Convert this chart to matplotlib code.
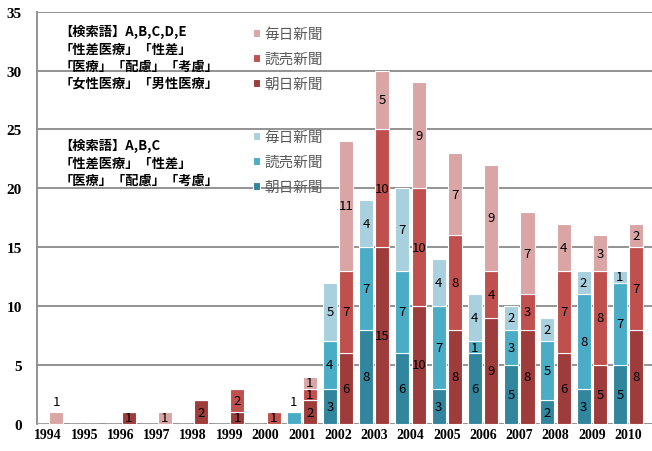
import numpy as np
import matplotlib.pyplot as plt

plt.rcParams['font.family'] = ['Noto Sans CJK JP', 'DejaVu Sans']

years = [str(y) for y in range(1994, 2011)]

# search terms A,B,C (blue group)
abc_asahi    = [0, 0, 0, 0, 0, 0, 0, 0, 3, 8, 6, 3, 6, 5, 2, 3, 5]
abc_yomiuri  = [0, 0, 0, 0, 0, 0, 0, 1, 4, 7, 7, 7, 1, 3, 5, 8, 7]
abc_mainichi = [0, 0, 0, 0, 0, 0, 0, 0, 5, 4, 7, 4, 4, 2, 2, 2, 1]

# search terms A,B,C,D,E (red group)
all_asahi    = [0, 0, 1, 0, 2, 1, 0, 2, 6, 15, 10, 8, 9, 8, 6, 5, 8]
all_yomiuri  = [0, 0, 0, 0, 0, 2, 1, 1, 7, 10, 10, 8, 4, 3, 7, 8, 7]
all_mainichi = [1, 0, 0, 1, 0, 0, 0, 1, 11, 5, 9, 7, 9, 7, 4, 3, 2]

papers = ['朝日新聞', '読売新聞', '毎日新聞']
blue_colors = ['#31859c', '#4bacc6', '#a8d0de']
red_colors = ['#9e3b3b', '#c0504d', '#d9a5a5']

# labels drawn above the bar instead of inside (as in original)
above = {('red', 0), ('blue', 7)}

fig = plt.figure(figsize=(6.52, 4.52), dpi=100)
ax = fig.add_axes([0.0567, 0.06, 0.9433, 0.912])

x = np.arange(len(years))
w = 0.39
off = 0.225

groups = [('blue', x - off, [abc_asahi, abc_yomiuri, abc_mainichi], blue_colors),
          ('red', x + off, [all_asahi, all_yomiuri, all_mainichi], red_colors)]

handles = {}
for name, pos, series, colors in groups:
    bottom = np.zeros(len(years))
    hs = []
    for vals, col, lab in zip(series, colors, papers):
        vals = np.array(vals)
        bars = ax.bar(pos, vals, w, bottom=bottom, color=col, edgecolor='white',
                      linewidth=0.8, zorder=3, label=lab)
        hs.append(bars)
        for i, (b, v) in enumerate(zip(bars, vals)):
            if v == 0:
                continue
            if (name, i) in above:
                ypos = bottom[i] + v + 0.9
            else:
                ypos = bottom[i] + v / 2
            ax.text(b.get_x() + b.get_width() / 2, ypos, str(v),
                    ha='center', va='center', fontsize=9.5, color='black', zorder=4)
        bottom = bottom + vals
    handles[name] = hs

ax.set_xlim(-0.303, 16.66)
ax.set_ylim(0, 35)
ax.set_yticks(range(0, 36, 5))
ax.set_xticks(x)
ax.set_xticklabels(years)
ax.yaxis.grid(True, color='#8a8a8a', linewidth=1.3, zorder=0)
ax.set_axisbelow(True)
for s in ['top', 'right', 'bottom']:
    ax.spines[s].set_visible(False)
ax.spines['left'].set_color('#8a8a8a')
ax.spines['left'].set_linewidth(1.3)
ax.tick_params(length=0)
ax.tick_params(axis='y', pad=11)
ax.tick_params(axis='x', pad=3)
for t in ax.get_xticklabels():
    t.set_family('Liberation Serif')
    t.set_fontweight('bold')
    t.set_fontsize(10)
for t in ax.get_yticklabels():
    t.set_family('Liberation Serif')
    t.set_fontweight('bold')
    t.set_fontsize(11)

# search-term notes
ax.text(0.036, 0.97, '【検索語】A,B,C,D,E\n「性差医療」「性差」\n「医療」「配慮」「考慮」\n「女性医療」「男性医療」',
        transform=ax.transAxes, ha='left', va='top', fontsize=9.5, fontweight='bold',
        linespacing=1.3, zorder=5)
ax.text(0.036, 0.693, '【検索語】A,B,C\n「性差医療」「性差」\n「医療」「配慮」「考慮」',
        transform=ax.transAxes, ha='left', va='top', fontsize=9.5, fontweight='bold',
        linespacing=1.3, zorder=5)

leg_kw = dict(loc='upper left', frameon=False, fontsize=10.5,
              handlelength=0.45, handleheight=0.45, handletextpad=0.3,
              labelspacing=0.77, labelcolor='#595959')
leg1 = ax.legend(handles['red'][::-1], papers[::-1],
                 bbox_to_anchor=(0.33, 0.995), **leg_kw)
ax.add_artist(leg1)
ax.legend(handles['blue'][::-1], papers[::-1],
          bbox_to_anchor=(0.33, 0.745), **leg_kw)

fig.savefig('out.png', dpi=100)
